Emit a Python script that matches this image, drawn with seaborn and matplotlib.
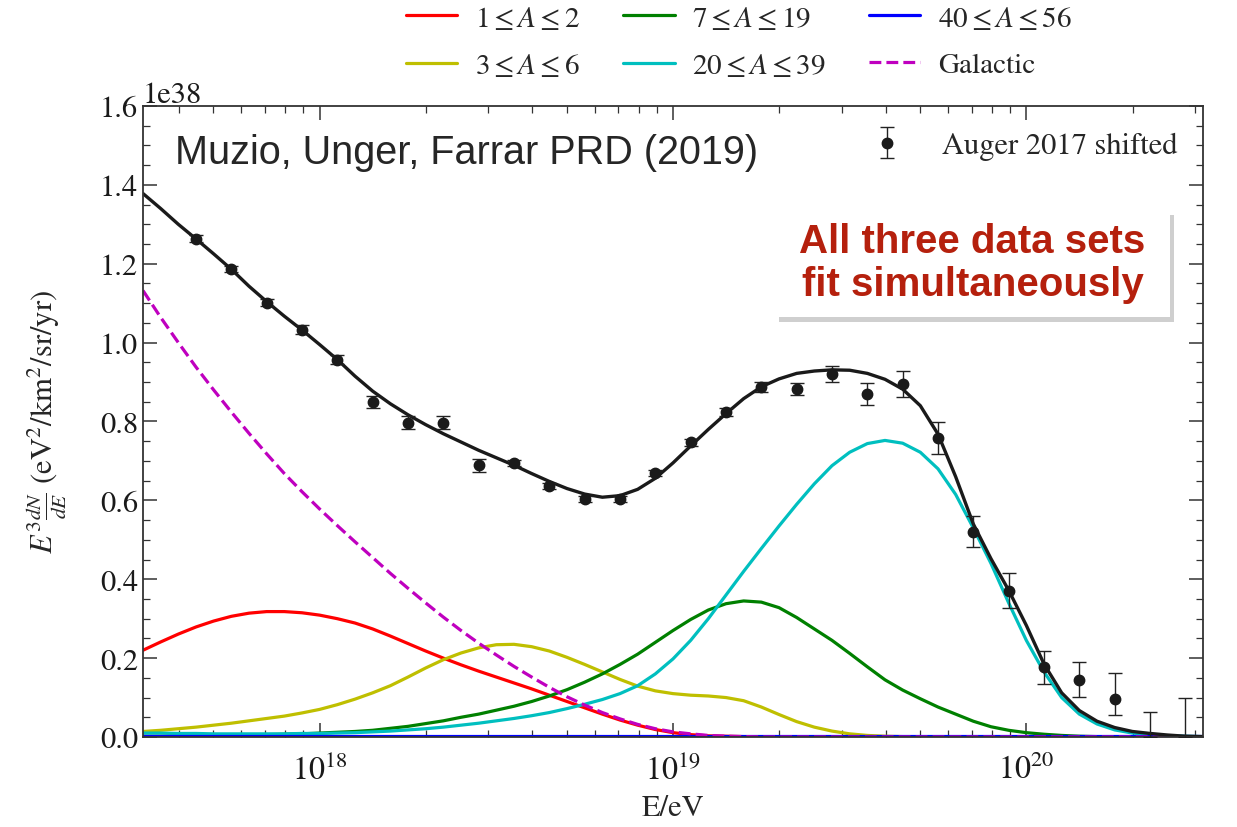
import numpy as np
import matplotlib
matplotlib.use("Agg")
import matplotlib.pyplot as plt
import seaborn as sns
from matplotlib.patches import FancyBboxPatch
import matplotlib.patheffects as pe
from matplotlib.ticker import MultipleLocator

# ---------------- data (flux in units of 1e38 eV^2/km^2/sr/yr) ----------------
log_E = [17.50, 17.55, 17.60, 17.65, 17.70, 17.75, 17.80, 17.85, 17.90, 17.95,
         18.00, 18.05, 18.10, 18.15, 18.20, 18.25, 18.30, 18.35, 18.40, 18.45,
         18.50, 18.55, 18.60, 18.65, 18.70, 18.75, 18.80, 18.85, 18.90, 18.95,
         19.00, 19.05, 19.10, 19.15, 19.20, 19.25, 19.30, 19.35, 19.40, 19.45,
         19.50, 19.55, 19.60, 19.65, 19.70, 19.75, 19.80, 19.85, 19.90, 19.95,
         20.00, 20.05, 20.10, 20.15, 20.20, 20.25, 20.30, 20.35, 20.40, 20.45,
         20.50]

total = [1.378, 1.340, 1.300, 1.263, 1.225, 1.186, 1.143, 1.104, 1.067, 1.032,
         0.995, 0.957, 0.915, 0.877, 0.845, 0.817, 0.792, 0.769, 0.748, 0.727,
         0.708, 0.689, 0.668, 0.648, 0.630, 0.616, 0.608, 0.612, 0.628, 0.656,
         0.695, 0.738, 0.780, 0.820, 0.858, 0.888, 0.908, 0.922, 0.928, 0.931,
         0.930, 0.922, 0.907, 0.882, 0.840, 0.768, 0.660, 0.540, 0.452, 0.372,
         0.283, 0.185, 0.112, 0.067, 0.040, 0.024, 0.014, 0.009, 0.005, 0.002,
         0.001]
a_1_2 = [0.220, 0.241, 0.261, 0.279, 0.294, 0.306, 0.314, 0.318, 0.318, 0.315,
         0.309, 0.300, 0.289, 0.274, 0.256, 0.237, 0.218, 0.200, 0.183, 0.167,
         0.152, 0.137, 0.122, 0.106, 0.090, 0.074, 0.058, 0.043, 0.030, 0.019,
         0.011, 0.006, 0.003, 0.002, 0.001, 0.0, 0.0, 0.0, 0.0, 0.0,
         0.0, 0.0, 0.0, 0.0, 0.0, 0.0, 0.0, 0.0, 0.0, 0.0,
         0.0, 0.0, 0.0, 0.0, 0.0, 0.0, 0.0, 0.0, 0.0, 0.0,
         0.0]
a_3_6 = [0.014, 0.017, 0.021, 0.025, 0.030, 0.035, 0.041, 0.047, 0.053, 0.061,
         0.070, 0.082, 0.096, 0.112, 0.130, 0.152, 0.175, 0.196, 0.213, 0.226,
         0.234, 0.235, 0.229, 0.218, 0.202, 0.184, 0.165, 0.146, 0.129, 0.117,
         0.110, 0.106, 0.104, 0.100, 0.092, 0.076, 0.057, 0.039, 0.025, 0.015,
         0.008, 0.004, 0.002, 0.001, 0.0, 0.0, 0.0, 0.0, 0.0, 0.0,
         0.0, 0.0, 0.0, 0.0, 0.0, 0.0, 0.0, 0.0, 0.0, 0.0,
         0.0]
a_7_19 = [0.002, 0.002, 0.003, 0.003, 0.004, 0.004, 0.005, 0.006, 0.007, 0.008,
          0.010, 0.012, 0.014, 0.017, 0.022, 0.027, 0.034, 0.041, 0.050, 0.058,
          0.068, 0.078, 0.090, 0.104, 0.120, 0.139, 0.160, 0.184, 0.210, 0.240,
          0.270, 0.298, 0.322, 0.338, 0.345, 0.342, 0.328, 0.303, 0.274, 0.245,
          0.212, 0.178, 0.145, 0.119, 0.097, 0.076, 0.058, 0.040, 0.026, 0.017,
          0.011, 0.007, 0.004, 0.002, 0.001, 0.0, 0.0, 0.0, 0.0, 0.0,
          0.0]
a_20_39 = [0.010, 0.010, 0.009, 0.009, 0.008, 0.008, 0.008, 0.008, 0.008, 0.009,
           0.009, 0.010, 0.011, 0.013, 0.015, 0.018, 0.021, 0.025, 0.030, 0.035,
           0.041, 0.047, 0.054, 0.062, 0.072, 0.083, 0.095, 0.110, 0.130, 0.160,
           0.198, 0.245, 0.300, 0.360, 0.420, 0.478, 0.535, 0.590, 0.642, 0.688,
           0.722, 0.744, 0.752, 0.745, 0.722, 0.680, 0.615, 0.530, 0.440, 0.340,
           0.245, 0.165, 0.100, 0.058, 0.033, 0.018, 0.010, 0.006, 0.003, 0.002,
           0.001]
a_40_56 = [0.002] * 61
galactic = [1.132, 1.064, 1.000, 0.938, 0.880, 0.824, 0.770, 0.718, 0.668, 0.622,
            0.578, 0.536, 0.495, 0.455, 0.415, 0.377, 0.340, 0.304, 0.270, 0.238,
            0.208, 0.179, 0.152, 0.126, 0.102, 0.081, 0.062, 0.046, 0.032, 0.021,
            0.013, 0.008, 0.004, 0.002, 0.001, 0.0, 0.0, 0.0, 0.0, 0.0,
            0.0, 0.0, 0.0, 0.0, 0.0, 0.0, 0.0, 0.0, 0.0, 0.0,
            0.0, 0.0, 0.0, 0.0, 0.0, 0.0, 0.0, 0.0, 0.0, 0.0,
            0.0]

# Auger 2017 (shifted) data points
data_logE = [17.65, 17.75, 17.85, 17.95, 18.05, 18.15, 18.25, 18.35, 18.45, 18.55,
             18.65, 18.75, 18.85, 18.95, 19.05, 19.15, 19.25, 19.35, 19.45, 19.55,
             19.65, 19.75, 19.85, 19.95, 20.05, 20.15, 20.25]
data_flux = [1.264, 1.187, 1.101, 1.033, 0.957, 0.849, 0.797, 0.797, 0.689, 0.695,
             0.636, 0.603, 0.603, 0.669, 0.747, 0.825, 0.888, 0.882, 0.920, 0.870,
             0.895, 0.758, 0.521, 0.371, 0.177, 0.145, 0.096]
err_low = [0.008, 0.008, 0.009, 0.011, 0.012, 0.015, 0.016, 0.017, 0.017, 0.008,
           0.008, 0.008, 0.008, 0.008, 0.009, 0.010, 0.012, 0.015, 0.021, 0.027,
           0.034, 0.040, 0.039, 0.044, 0.042, 0.044, 0.040]
err_high = [0.008, 0.008, 0.009, 0.011, 0.012, 0.015, 0.016, 0.017, 0.017, 0.008,
            0.008, 0.008, 0.008, 0.008, 0.009, 0.010, 0.012, 0.015, 0.021, 0.027,
            0.034, 0.040, 0.039, 0.044, 0.042, 0.044, 0.066]
ul_logE = [20.35, 20.45]
ul_flux = [0.063, 0.098]

SCALE = 1e38
labels = [r"$1\leq A\leq 2$", r"$3\leq A\leq 6$", r"$7\leq A\leq 19$",
          r"$20\leq A\leq 39$", r"$40\leq A\leq 56$", "Galactic"]
series = [a_1_2, a_3_6, a_7_19, a_20_39, a_40_56, galactic]
colors = ["#FF0000", "#BFBF00", "#008000", "#00BFBF", "#0000FF", "#BF00BF"]

# ---------------- style ----------------
sns.set_theme(style="ticks")
plt.rcParams["font.family"] = ["STIXGeneral", "DejaVu Serif"]
plt.rcParams["mathtext.fontset"] = "stix"
plt.rcParams["axes.edgecolor"] = "#333333"
plt.rcParams["axes.linewidth"] = 1.3

fig = plt.figure(figsize=(12.37, 8.28), dpi=100)
ax = fig.add_axes([143 / 1237, 1 - 738 / 828, 1060 / 1237, 631 / 828])
ax.set_xscale("log")

E = 10 ** np.array(log_E)
for vals, lab, col in zip(series, labels, colors):
    ls = "--" if lab == "Galactic" else "-"
    sns.lineplot(x=E, y=np.array(vals) * SCALE, color=col, lw=2.3, ls=ls,
                 ax=ax, label=lab, estimator=None, sort=False)
sns.lineplot(x=E, y=np.array(total) * SCALE, color="k", lw=2.4, ax=ax,
             estimator=None, sort=False)
h, l = ax.get_legend_handles_labels()
ax.get_legend().remove()

dE = 10 ** np.array(data_logE)
eb = ax.errorbar(dE, np.array(data_flux) * SCALE,
                 yerr=[np.array(err_low) * SCALE, np.array(err_high) * SCALE],
                 fmt="o", color="k", ms=7.5, elinewidth=1.0, capsize=5,
                 capthick=1.0, ecolor="#222222", label="Auger 2017 shifted", zorder=5)
uE = 10 ** np.array(ul_logE)
ax.errorbar(uE, np.zeros(len(ul_flux)),
            yerr=[np.zeros(len(ul_flux)), np.array(ul_flux) * SCALE],
            fmt="none", ecolor="#222222", elinewidth=1.0, capsize=5, capthick=1.0,
            zorder=5)

ax.set_xlim(10 ** 17.5, 10 ** 20.5)
ax.set_ylim(0, 1.6 * SCALE)
ax.yaxis.set_major_locator(MultipleLocator(0.2 * SCALE))
ax.yaxis.set_minor_locator(MultipleLocator(0.05 * SCALE))
ax.tick_params(which="both", direction="in", top=True, right=True,
               colors="#333333", labelcolor="k")
ax.tick_params(which="major", length=10, width=1.1, labelsize=22)
ax.tick_params(which="minor", length=5, width=0.9)
ax.tick_params(axis="x", which="major", pad=12, labelsize=23)
ax.yaxis.get_offset_text().set_fontsize(22)

ax.set_xlabel("E/eV", fontsize=22, labelpad=6)
ax.set_ylabel(r"$E^3\frac{dN}{dE}$ (eV$^2$/km$^2$/sr/yr)", fontsize=22, labelpad=22)

# legends
fig.legend(h, l, loc="upper left", bbox_to_anchor=(380 / 1237, 1.025), ncol=3,
           frameon=False, fontsize=21, handlelength=1.75, handletextpad=0.6,
           columnspacing=1.5, labelspacing=0.7)
ax.legend(handles=[eb], labels=["Auger 2017 shifted"], loc="upper right",
          frameon=False, fontsize=22, handletextpad=0.8, borderaxespad=0.45)

ax.text(0.030, 0.927, "Muzio, Unger, Farrar PRD (2019)", transform=ax.transAxes,
        fontsize=28.5, family="Liberation Sans", va="center", ha="left")

box = FancyBboxPatch((0.596, 0.666), 0.373, 0.170, boxstyle="square,pad=0",
                     transform=ax.transAxes, facecolor="white", edgecolor="none",
                     zorder=6,
                     path_effects=[pe.withSimplePatchShadow(offset=(3, -4),
                                                            shadow_rgbFace="#777777",
                                                            alpha=0.35),
                                   pe.Normal()])
ax.add_patch(box)
ax.text(0.7825, 0.752, "All three data sets\nfit simultaneously", transform=ax.transAxes,
        fontsize=29, family="Liberation Sans", weight="bold", color="#B5200D",
        ha="center", va="center", linespacing=1.15, zorder=7)

fig.savefig("out.png", dpi=100)
